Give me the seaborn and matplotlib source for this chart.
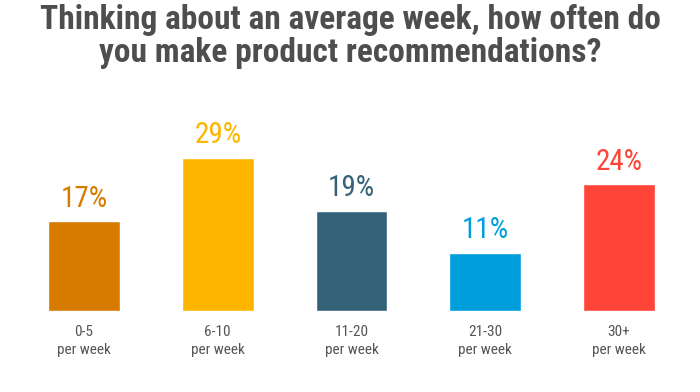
import matplotlib
matplotlib.use("Agg")
import matplotlib.pyplot as plt
import seaborn as sns
import pandas as pd

categories = ["0-5\nper week", "6-10\nper week", "11-20\nper week", "21-30\nper week", "30+\nper week"]
values = [17, 29, 19, 11, 24]
labels = ["17%", "29%", "19%", "11%", "24%"]
colors = ["#D67B00", "#FDB500", "#356179", "#009EDD", "#FF4438"]

sns.set_style("white")
plt.rcParams['font.family'] = ['Roboto Condensed', 'Liberation Sans Narrow', 'DejaVu Sans']

df = pd.DataFrame({"cat": categories, "val": values})
fig = plt.figure(figsize=(7, 3.92), dpi=100)
ax = fig.add_axes([17/700, 1 - 311/392, (686-17)/700, (311-142)/392])
sns.barplot(data=df, x="cat", y="val", hue="cat", palette=colors, width=0.537,
            legend=False, ax=ax, saturation=1)
ax.set_ylim(0, 32)
ax.set_xlim(-0.5, 4.5)
for i, (v, lab, c) in enumerate(zip(values, labels, colors)):
    ax.text(i, v + 1.6, lab, ha="center", va="bottom", color=c, fontsize=21,
            fontweight="normal", clip_on=False)
ax.set_xlabel("")
ax.set_ylabel("")
ax.set_yticks([])
ax.tick_params(axis="x", length=0, pad=10, labelsize=11, labelcolor="#555555")
for lab in ax.get_xticklabels():
    lab.set_linespacing(1.35)
for s in ax.spines.values():
    s.set_visible(False)
fig.text(0.5, 0.99, "Thinking about an average week, how often do\nyou make product recommendations?",
         ha="center", va="top", fontsize=24, fontweight="bold", color="#4D4F4F", linespacing=1.05)
fig.savefig("out.png", dpi=100)
